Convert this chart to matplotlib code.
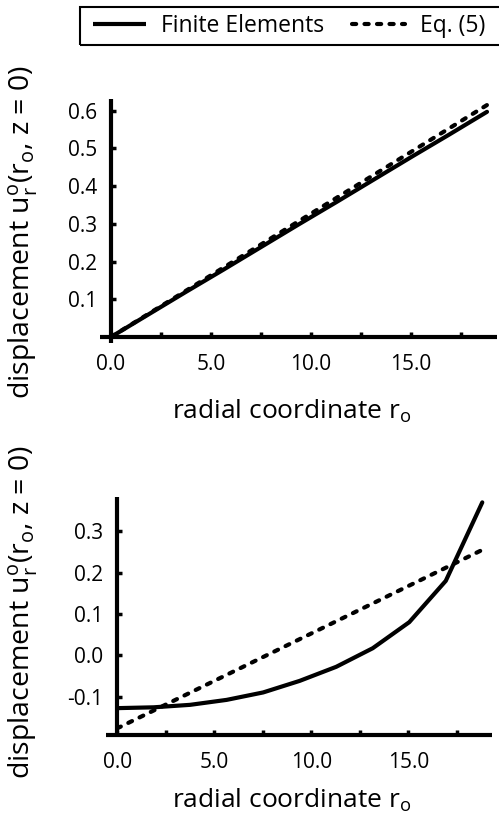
import matplotlib
matplotlib.use("Agg")
import matplotlib.pyplot as plt
from matplotlib.lines import Line2D
from matplotlib.patches import Rectangle
from matplotlib.ticker import MultipleLocator, FixedLocator, FormatStrFormatter

# ---------------- data ----------------
r_nodes = [0.0, 1.88, 3.76, 5.64, 7.52, 9.40, 11.28, 13.16, 15.04, 16.92, 18.8]
fe_top = [0.0, 0.060, 0.120, 0.179, 0.239, 0.299, 0.358, 0.418, 0.478, 0.537, 0.597]
eq_r = [0.0, 18.8]
eq_top = [0.0, 0.615]

fe_bottom = [-0.128, -0.126, -0.120, -0.108, -0.090, -0.062, -0.028, 0.017, 0.080, 0.180, 0.370]
eq_bottom = [-0.177, 0.255]

x_ticks_major = [0.0, 5.0, 10.0, 15.0]
top_yticks = [0.1, 0.2, 0.3, 0.4, 0.5, 0.6]
bottom_yticks = [-0.1, 0.0, 0.1, 0.2, 0.3]

legend_labels = ["Finite Elements", "Eq. (5)"]
xlabel = r"radial coordinate r$_\mathregular{o}$"
ylabel = r"displacement u$_\mathregular{r}^\mathregular{o}$(r$_\mathregular{o}$, z = 0)"

# ---------------- style ----------------
plt.rcParams['font.family'] = ['Open Sans', 'DejaVu Sans']
plt.rcParams['mathtext.fontset'] = 'custom'
plt.rcParams['mathtext.rm'] = 'Open Sans'
plt.rcParams['mathtext.it'] = 'Open Sans'

LW = 3.0
DASH = (1.0, 2.0)

fig = plt.figure(figsize=(4.99, 8.18), dpi=100)

W, H = 499.0, 818.0
def axes_px(l, r, t, b):
    return fig.add_axes([l / W, 1 - b / H, (r - l) / W, (b - t) / H])

ax1 = axes_px(100, 497, 99, 343)
ax2 = axes_px(106, 492, 497, 735)

def style(ax, yticks, xlim, ylim, bottom_pos):
    ax.set_xlim(*xlim)
    ax.set_ylim(*ylim)
    for s in ['top', 'right']:
        ax.spines[s].set_visible(False)
    ax.spines['left'].set_position(('data', 0))
    ax.spines['bottom'].set_position(bottom_pos)
    for s in ['left', 'bottom']:
        ax.spines[s].set_linewidth(3.0)
        ax.spines[s].set_capstyle('butt')
    ax.xaxis.set_major_locator(FixedLocator(x_ticks_major))
    ax.xaxis.set_minor_locator(MultipleLocator(2.5))
    ax.xaxis.set_major_formatter(FormatStrFormatter('%.1f'))
    ax.yaxis.set_major_locator(FixedLocator(yticks))
    ax.yaxis.set_major_formatter(FormatStrFormatter('%.1f'))
    ax.tick_params(axis='both', which='both', direction='in', length=3.5, width=2.5,
                   labelsize=15)
    ax.tick_params(axis='x', which='major', pad=12)
    ax.tick_params(axis='y', which='major', pad=10)
    ax.patch.set_visible(False)

style(ax1, top_yticks, (-0.55, 19.3), (-0.016, 0.631), ('data', 0))
style(ax2, bottom_yticks, (-0.57, 19.3), (-0.193, 0.383), ('axes', 0))

ax1.plot(r_nodes, fe_top, color='black', lw=LW, solid_capstyle='round')
ax1.plot(eq_r, eq_top, color='black', lw=LW, dashes=DASH, dash_capstyle='round')
ax2.plot(r_nodes, fe_bottom, color='black', lw=LW, solid_capstyle='round')
ax2.plot(eq_r, eq_bottom, color='black', lw=LW, dashes=DASH, dash_capstyle='round')

for ax in (ax1, ax2):
    ax.set_xlabel(xlabel, fontsize=19)
    ax.set_ylabel(ylabel, fontsize=20.5)

ax1.xaxis.set_label_coords((292 - 100) / 397, -(398 - 343) / 244)
ax2.xaxis.set_label_coords((292 - 106) / 386, -(787 - 735) / 238)
ax1.yaxis.set_label_coords(-(100 - 40) / 397, (343 - 232) / 244)
ax2.yaxis.set_label_coords(-(106 - 40) / 386, (735 - 612) / 238)

# legend: entries without frame, plus a separate box that runs off the right edge
handles = [Line2D([], [], color='black', lw=LW, solid_capstyle='butt'),
           Line2D([], [], color='black', lw=LW, dashes=DASH, dash_capstyle='round')]
leg = fig.legend(handles, legend_labels, loc='center left',
                 bbox_to_anchor=(93 / W, 1 - 26 / H), ncol=2, fontsize=16.5,
                 frameon=False, borderpad=0, handlelength=2.3,
                 handletextpad=0.65, columnspacing=1.25, borderaxespad=0)
box = Rectangle((80 / W, 1 - 45 / H), 440 / W, 38 / H, transform=fig.transFigure,
                fill=False, edgecolor='black', linewidth=1.5, clip_on=False)
fig.add_artist(box)

fig.savefig("out.png", dpi=100)
